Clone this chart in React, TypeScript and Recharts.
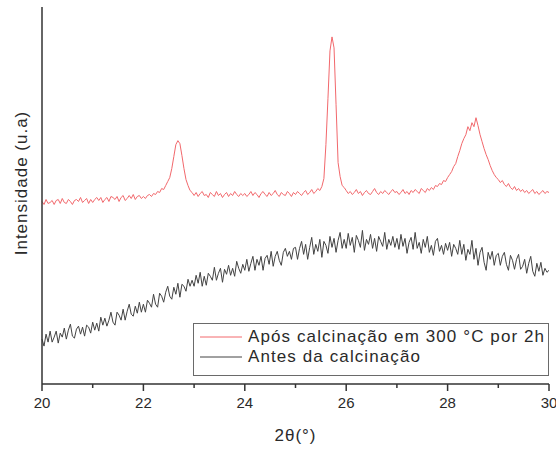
import React from 'react';
import { LineChart, Line, XAxis, YAxis, Legend } from 'recharts';

// 2θ sampling of the diffractogram (degrees)
const twoThetaStart = 20;
const twoThetaStep = 0.04;

const xTicks = [20, 21, 22, 23, 24, 25, 26, 27, 28, 29, 30];
const xTickLabels = ['20', '', '22', '', '24', '', '26', '', '28', '', '30'];

const seriesNames = ['Após calcinação em 300 °C por 2h', 'Antes da calcinação'];
const axisTitles = { x: '2θ(°)', y: 'Intensidade (u.a)' };

// Intensity (a.u.) after calcination
const afterCalcination = [
  183, 180, 185, 181, 182, 184, 180, 184, 185, 181, 186, 182, 181, 185, 183, 180, 184, 185, 183, 187, 182, 184, 186, 181, 185,
  182, 185, 187, 184, 187, 182, 185, 187, 183, 188, 187, 185, 188, 183, 187, 189, 184, 186, 189, 186, 190, 185, 188, 189, 186,
  188, 186, 189, 190, 188, 191, 190, 193, 192, 196, 195, 199, 203, 207, 216, 228, 240, 244, 241, 229, 216, 205, 199, 194, 192,
  189, 192, 188, 191, 193, 189, 190, 187, 192, 190, 188, 193, 189, 191, 187, 190, 192, 188, 191, 189, 193, 190, 188, 191, 189,
  191, 188, 190, 193, 189, 192, 190, 187, 191, 193, 190, 188, 192, 189, 191, 194, 190, 188, 192, 190, 189, 193, 191, 188, 192,
  190, 193, 191, 189, 192, 194, 190, 192, 195, 191, 193, 196, 194, 198, 206, 240, 286, 334, 348, 337, 280, 222, 208, 199, 197,
  194, 191, 193, 190, 192, 195, 191, 193, 189, 192, 194, 191, 190, 193, 196, 192, 190, 193, 191, 194, 192, 190, 193, 195, 192,
  193, 190, 192, 195, 191, 193, 190, 194, 192, 195, 193, 191, 196, 194, 192, 196, 194, 197, 195, 199, 198, 201, 200, 204, 203,
  207, 210, 213, 218, 221, 228, 234, 241, 246, 250, 258, 254, 262, 258, 267, 259, 250, 243, 236, 230, 225, 219, 214, 210, 207,
  205, 202, 204, 200, 198, 201, 197, 195, 198, 194, 196, 193, 195, 192, 194, 191, 193, 195, 191, 193, 190, 192, 194, 191, 193,
  192,
];

// Intensity (a.u.) before calcination
const beforeCalcination = [
  45, 38, 50, 42, 53, 42, 47, 53, 41, 51, 47, 56, 45, 54, 60, 48, 46, 55, 58, 50, 57, 48, 59, 57, 51,
  62, 54, 61, 53, 67, 59, 66, 58, 64, 72, 62, 59, 72, 69, 64, 75, 64, 73, 80, 70, 68, 78, 71, 82, 72,
  80, 72, 84, 81, 77, 90, 80, 77, 91, 88, 82, 92, 98, 88, 85, 97, 90, 101, 87, 100, 98, 93, 105, 98, 104,
  98, 109, 101, 112, 98, 108, 99, 111, 108, 104, 117, 104, 111, 116, 102, 115, 110, 119, 109, 116, 108, 123, 116, 111, 120,
  114, 125, 113, 121, 128, 114, 125, 119, 128, 114, 126, 129, 120, 133, 118, 128, 133, 124, 119, 132, 136, 128, 133, 125, 136,
  137, 125, 136, 143, 130, 140, 125, 137, 147, 130, 140, 133, 145, 127, 143, 139, 131, 148, 137, 146, 132, 144, 152, 136, 145,
  136, 151, 139, 147, 132, 149, 144, 137, 154, 134, 145, 140, 150, 136, 146, 133, 148, 143, 138, 152, 135, 145, 139, 148, 137,
  146, 135, 150, 138, 146, 131, 142, 147, 135, 152, 136, 142, 131, 145, 137, 148, 132, 139, 129, 143, 146, 133, 139, 130, 141,
  134, 142, 128, 140, 136, 130, 144, 130, 140, 124, 135, 130, 144, 125, 136, 119, 132, 137, 122, 114, 132, 125, 133, 119, 129,
  131, 119, 128, 132, 120, 114, 129, 124, 115, 125, 130, 115, 118, 125, 111, 121, 128, 113, 108, 121, 113, 122, 109, 116, 112,
  114,
];

const data = afterCalcination.map((v, i) => ({
  x: Math.round((twoThetaStart + i * twoThetaStep) * 100) / 100,
  after: v,
  before: beforeCalcination[i] ?? null,
}));

const FONT = '"Liberation Sans", Arial, Helvetica, sans-serif';
const RED = '#f2686c';
const GRAY = '#424242';
const AXIS = '#333333';
const TEXT = '#2a2a2a';

const XTick = (props: any) => {
  const { x, y, payload } = props;
  const idx = xTicks.indexOf(payload.value);
  const label = idx >= 0 ? xTickLabels[idx] : '';
  const major = label !== '';
  return (
    <g>
      <line x1={x} x2={x} y1={y} y2={y + (major ? 7 : 4)} stroke={AXIS} strokeWidth={1.5} />
      {major && (
        <text x={x} y={y + 24} textAnchor="middle" fontSize={15} fill={TEXT} fontFamily={FONT}>
          {label}
        </text>
      )}
    </g>
  );
};

const XTitle = (props: any) => {
  const vb = props.viewBox || { x: 42, y: 384, width: 507, height: 65 };
  return (
    <text
      x={vb.x + vb.width / 2}
      y={vb.y + 57}
      textAnchor="middle"
      fontSize={17}
      fill={TEXT}
      fontFamily={FONT}
      style={{ letterSpacing: '1px' }}
    >
      {axisTitles.x}
    </text>
  );
};

const YTitle = () => {
  const cx = 21;
  const cy = 183;
  return (
    <text
      x={cx}
      y={cy}
      transform={`rotate(-90 ${cx} ${cy})`}
      textAnchor="middle"
      dominantBaseline="central"
      fontSize={17}
      fill={TEXT}
      fontFamily={FONT}
      style={{ letterSpacing: '1px' }}
    >
      {axisTitles.y}
    </text>
  );
};

const LegendBox = () => (
  <svg width={356} height={53} style={{ display: 'block' }}>
    <rect x={0.5} y={0.5} width={355} height={52} fill="#fff" stroke="#6a6a6a" strokeWidth={1} />
    <line x1={7} x2={49} y1={14} y2={14} stroke={RED} strokeWidth={1} />
    <text x={55} y={19} fontSize={17} fill={TEXT} fontFamily={FONT} style={{ letterSpacing: '1.1px' }}>
      {seriesNames[0]}
    </text>
    <line x1={7} x2={49} y1={34} y2={34} stroke={GRAY} strokeWidth={1} />
    <text x={55} y={39} fontSize={17} fill={TEXT} fontFamily={FONT} style={{ letterSpacing: '1.1px' }}>
      {seriesNames[1]}
    </text>
  </svg>
);

export default function App() {
  return (
    <div style={{ position: 'absolute', left: 0, top: 0, width: 556, height: 449, background: '#fff' }}>
      <LineChart width={556} height={449} data={data} margin={{ top: 7, right: 7, bottom: 0, left: 0 }}>
        <XAxis
          dataKey="x"
          type="number"
          domain={[20, 30]}
          ticks={xTicks}
          interval={0}
          height={65}
          tickSize={0}
          tickMargin={0}
          tickLine={false}
          tick={<XTick />}
          axisLine={{ stroke: AXIS, strokeWidth: 1.5 }}
          label={<XTitle />}
        />
        <YAxis
          type="number"
          domain={[0, 378]}
          width={42}
          tick={false}
          tickLine={false}
          axisLine={{ stroke: AXIS, strokeWidth: 1.5 }}
          label={<YTitle />}
        />
        <Legend
          layout="vertical"
          align="center"
          verticalAlign="middle"
          content={<LegendBox />}
          wrapperStyle={{ position: 'absolute', left: 193, top: 323, width: 356, height: 53 }}
        />
        <Line
          type="linear"
          dataKey="after"
          name={seriesNames[0]}
          stroke={RED}
          strokeWidth={1}
          dot={false}
          isAnimationActive={false}
        />
        <Line
          type="linear"
          dataKey="before"
          name={seriesNames[1]}
          stroke={GRAY}
          strokeWidth={1}
          dot={false}
          isAnimationActive={false}
        />
      </LineChart>
    </div>
  );
}
